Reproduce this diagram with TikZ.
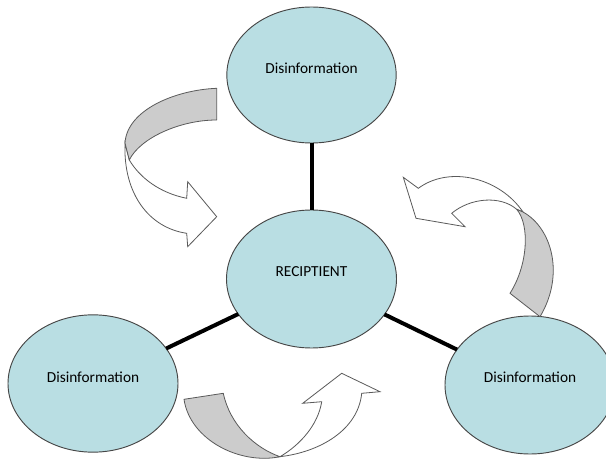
\documentclass[tikz,border=0pt]{standalone}
\usepackage{fontspec}
\setmainfont{Carlito}
\usetikzlibrary{shapes.geometric}
\definecolor{blobfill}{RGB}{185,222,227}
\definecolor{blobline}{RGB}{70,70,70}
\definecolor{bandgray}{RGB}{204,204,204}
\definecolor{bandline}{RGB}{90,90,90}
\tikzset{
  blob/.style={ellipse, draw=blobline, fill=blobfill, line width=0.7pt, inner sep=0pt, outer sep=0pt},
  lbl/.style={font=\fontsize{11.5}{14}\selectfont, text=black, inner sep=0pt},
  link/.style={line width=3pt, black},
  backband/.style={fill=bandgray, draw=bandline, line width=0.6pt, line join=round},
  frontband/.style={fill=white, draw=bandline, line width=0.6pt, line join=miter}
}
\begin{document}
\begin{tikzpicture}[x=0.75pt, y=-0.75pt]
\useasboundingbox (0,0) rectangle (606,463);

% ellipses
\node[blob, minimum width=127pt, minimum height=102pt] (top) at (311.5,75) {};
\node[blob, minimum width=127.5pt, minimum height=103.5pt] (cen) at (311.5,279) {};
\node[blob, minimum width=127.5pt, minimum height=103pt] (lft) at (93,383.5) {};
\node[blob, minimum width=127.5pt, minimum height=103.5pt] (rgt) at (530,385) {};

\node[lbl] (ttop) at ([yshift=5.2pt]top.center) {Disinformation};
\node[lbl] (tcen) at ([yshift=5.2pt]cen.center) {RECIPTIENT};
\node[lbl] (tlft) at ([yshift=5pt]lft.center) {Disinformation};
\node[lbl] (trgt) at ([yshift=5.5pt]rgt.center) {Disinformation};

% connectors
\draw[link] (top) -- (cen);
\draw[link] (cen) -- (lft);
\draw[link] (cen) -- (rgt);

% curved arrow 1 (top left)
\draw[frontband] (125,143) .. controls (123,195) and (150,228) .. (186.7,233.3)
  -- (187.7,246.7) -- (216.7,216.7) -- (187.7,181.7) -- (186.7,198.3)
  .. controls (160,193) and (140,178) .. (129.3,160) -- cycle;
\draw[backband] (216.7,88.3) .. controls (175,90) and (127,110) .. (125,143)
  -- (129.3,160) .. controls (140,138) and (180,120) .. (216.7,120) -- cycle;

% curved arrow 2 (right)
\draw[frontband] (523,212) .. controls (500,178) and (450,165) .. (418.3,188.3)
  -- (403.3,177.3) -- (416,218.3) -- (465,226.7) -- (451.7,213.3)
  .. controls (470,198) and (500,195) .. (516.7,209.3) -- cycle;
\draw[backband] (510,293.3) .. controls (528,265) and (530,225) .. (516.7,209.3)
  -- (523,212) .. controls (552,228) and (565,275) .. (540,316.7) -- cycle;

% curved arrow 3 (bottom)
\draw[frontband] (280,456.7) .. controls (320,452) and (358,430) .. (361.7,393.3)
  -- (380,391.7) -- (341.7,373.3) -- (302.7,403.3) -- (321.7,401.7)
  .. controls (318,425) and (300,445) .. (280,456.7) -- cycle;
\draw[backband] (184,399.3) .. controls (190,440) and (240,465) .. (280,456.7)
  .. controls (255,448) and (230,425) .. (223.3,393.3) -- cycle;
\end{tikzpicture}
\end{document}
